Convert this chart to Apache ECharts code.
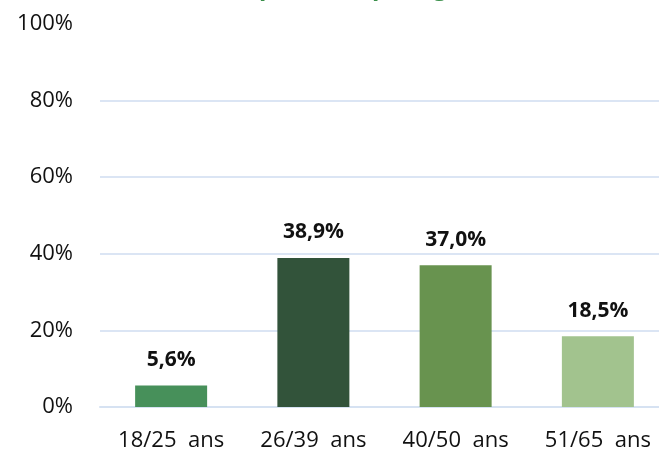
<!DOCTYPE html>
<html>
<head>
<meta charset="utf-8">
<script src="https://cdn.jsdelivr.net/npm/echarts@6/dist/echarts.min.js"></script>
<style>
  html, body { margin: 0; padding: 0; background: #fff; }
  #main { width: 659px; height: 452px; }
</style>
</head>
<body>
<div id="main"></div>
<script>
// tranches d'âge et pourcentages
var categories = ['18/25  ans', '26/39  ans', '40/50  ans', '51/65  ans'];
var values = [5.6, 38.9, 37.0, 18.5];
var barColors = ['#47905a', '#32533a', '#68934f', '#a2c38e'];
var titleText = 'Répartition par âge';

var myChart = echarts.init(document.getElementById('main'));
var option = {
    animation: false,
    title: {
        text: titleText,
        left: 224,
        top: -29,
        textStyle: {
            color: '#3a8f4a',
            fontFamily: 'Open Sans',
            fontWeight: 'bold',
            fontSize: 24
        }
    },
    grid: {
        left: 100,
        right: -10,
        top: 24,
        bottom: 45,
        outerBoundsMode: 'none'
    },
    xAxis: {
        type: 'category',
        data: categories,
        axisTick: { show: false },
        axisLine: { lineStyle: { color: '#d6e2f2', width: 2 } },
        axisLabel: {
            margin: 23,
            color: '#111',
            fontFamily: 'Open Sans',
            fontSize: 22
        }
    },
    yAxis: {
        type: 'value',
        min: 0,
        max: 100,
        interval: 20,
        axisLine: { show: false },
        axisTick: { show: false },
        splitLine: {
            showMaxLine: false,
            lineStyle: { color: '#dbe5f4', width: 2 }
        },
        axisLabel: {
            margin: 27,
            color: '#111',
            fontFamily: 'Open Sans',
            fontSize: 22,
            formatter: '{value}%'
        }
    },
    series: [{
        type: 'bar',
        barWidth: 72,
        data: values.map(function (v, i) {
            return { value: v, itemStyle: { color: barColors[i] } };
        }),
        label: {
            show: true,
            position: 'top',
            distance: 15,
            color: '#111',
            fontFamily: 'Open Sans',
            fontWeight: 'bold',
            fontSize: 21,
            formatter: function (p) {
                return p.value.toFixed(1).replace('.', ',') + '%';
            }
        }
    }]
};
myChart.setOption(option);
</script>
</body>
</html>
